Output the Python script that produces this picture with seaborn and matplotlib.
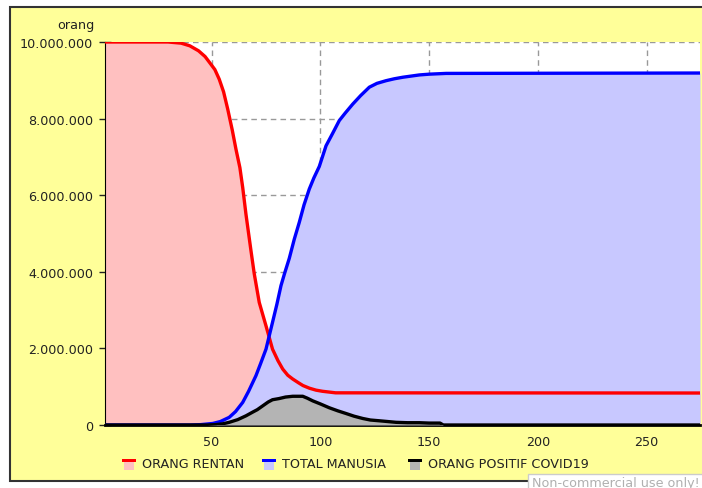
import matplotlib
matplotlib.use("Agg")
import matplotlib.pyplot as plt
from matplotlib.patches import Rectangle
from matplotlib.ticker import FuncFormatter
import seaborn as sns

# values (day, people)
rentan_day = [1, 30, 36, 40, 44, 47, 49, 51.5, 53.5, 55.5, 57.4, 59.5, 61.2, 63, 64.3,
              65.8, 68.1, 69.6, 71.9, 75, 78, 80.5, 82.7, 85, 87.3, 90, 92, 95, 98,
              101, 107, 274.5]
rentan_val = [10.0, 10.0, 9.97, 9.9, 9.77, 9.62, 9.47, 9.28, 9.03, 8.7, 8.25, 7.7, 7.2,
              6.72, 6.2, 5.5, 4.55, 3.95, 3.2, 2.59, 1.98, 1.68, 1.46, 1.3, 1.2,
              1.1, 1.03, 0.96, 0.91, 0.88, 0.84, 0.835]

manusia_day = [1, 40, 45, 50.5, 54, 58.1, 61, 64.3, 67, 70.4, 72.5, 75, 78, 80, 81.9,
               83.5, 85.7, 88, 90.3, 92.5, 94.9, 97, 99.5, 102.6, 105.5, 108.7, 111.5,
               114.9, 118.5, 122.5, 126, 130.2, 134, 137.9, 145.5, 150, 157.8, 274.5]
manusia_val = [0, 0, 0.01, 0.04, 0.09, 0.2, 0.35, 0.59, 0.88, 1.29, 1.6, 1.98, 2.68,
               3.15, 3.64, 3.95, 4.35, 4.85, 5.29, 5.75, 6.16, 6.45, 6.75, 7.29, 7.6,
               7.95, 8.15, 8.38, 8.6, 8.82, 8.92, 8.99, 9.04, 9.08, 9.14, 9.16, 9.18, 9.19]

positif_day = [1, 48, 52, 55, 58.1, 62, 65.8, 69, 71, 73.5, 76, 78, 81, 84, 87.3, 91.9,
               94, 96.5, 100, 104.1, 108, 111.8, 115.5, 119.5, 123, 127.1, 131, 134.8,
               140, 145.5, 150, 155, 156.5, 274.5]
positif_val = [0, 0, 0.01, 0.03, 0.07, 0.14, 0.24, 0.34, 0.4, 0.5, 0.6, 0.66, 0.69,
               0.73, 0.75, 0.75, 0.7, 0.63, 0.55, 0.45, 0.37, 0.3, 0.23, 0.17, 0.13,
               0.11, 0.09, 0.07, 0.06, 0.06, 0.05, 0.05, 0, 0]

rentan_val = [v * 1e6 for v in rentan_val]
manusia_val = [v * 1e6 for v in manusia_val]
positif_val = [v * 1e6 for v in positif_val]

labels = ["ORANG RENTAN", "TOTAL MANUSIA", "ORANG POSITIF COVID19"]
line_cols = ["#ff0000", "#0000ff", "#000000"]
fill_cols = ["#ffc0c0", "#c8c8ff", "#b4b4b4"]

W, H = 702, 489
plt.rcParams['font.family'] = ['DejaVu Sans']
plt.rcParams['font.size'] = 9.2

fig = plt.figure(figsize=(W / 100, H / 100), dpi=100, facecolor="white")

# yellow panel with dark border (cut off on the right)
fig.add_artist(Rectangle((10 / W, 1 - 482 / H), 700 / W, 474 / H, transform=fig.transFigure,
                         facecolor="#ffff99", edgecolor="#333333", lw=1.5, zorder=0))

ax = fig.add_axes([105 / W, 1 - 426 / H, 595 / W, 383 / H])
ax.set_facecolor("white")
ax.set_axisbelow(True)

series = [(rentan_day, rentan_val), (manusia_day, manusia_val), (positif_day, positif_val)]
for i, (d, v) in enumerate(series):
    ax.fill_between(d, v, 0, color=fill_cols[i], lw=0, zorder=1 + i)
for i, (d, v) in enumerate(series):
    sns.lineplot(x=d, y=v, ax=ax, color=line_cols[i], lw=2.4, zorder=5 + i)

ax.set_xlim(1, 274.5)
ax.set_ylim(0, 1e7)
ax.set_xticks([50, 100, 150, 200, 250])
ax.set_yticks([0, 2e6, 4e6, 6e6, 8e6, 1e7])
ax.yaxis.set_major_formatter(FuncFormatter(lambda v, p: f"{int(v):,}".replace(",", ".")))
ax.grid(True, color="#999999", ls=(0, (4, 3)), lw=1)
ax.tick_params(axis="y", direction="inout", length=9, width=1, pad=4, colors="#222222")
ax.tick_params(axis="x", direction="in", length=5, width=1, pad=7, colors="#222222")
for s in ["top", "right"]:
    ax.spines[s].set_visible(False)
ax.spines["left"].set_color("black")
ax.spines["bottom"].set_color("black")
ax.spines["bottom"].set_linewidth(2)
ax.set_xlabel("")
ax.set_ylabel("")

fig.text(95 / W, 1 - 26 / H, "orang", ha="right", va="center", color="#222222")

# legend drawn by hand: line swatch over a filled square
legend_x = [122, 262, 408]
for i, lab in enumerate(labels):
    x0 = legend_x[i]
    fig.add_artist(Rectangle((x0 / W, 1 - 463 / H), 14 / W, 3 / H, transform=fig.transFigure,
                             facecolor=line_cols[i], lw=0))
    fig.add_artist(Rectangle(((x0 + 2) / W, 1 - 471 / H), 10 / W, 8 / H, transform=fig.transFigure,
                             facecolor=fill_cols[i], lw=0))
    fig.text((x0 + 20) / W, 1 - 465 / H, lab, ha="left", va="center", color="#222222")

fig.add_artist(Rectangle((528 / W, 1 - 495 / H), 200 / W, 20 / H, transform=fig.transFigure,
                         facecolor="white", edgecolor="#cccccc", lw=1, zorder=10))
fig.text(532 / W, 1 - 484 / H, "Non-commercial use only!", ha="left", va="center",
         color="#b0b0b0", zorder=11)

fig.savefig("out.png", dpi=100)
